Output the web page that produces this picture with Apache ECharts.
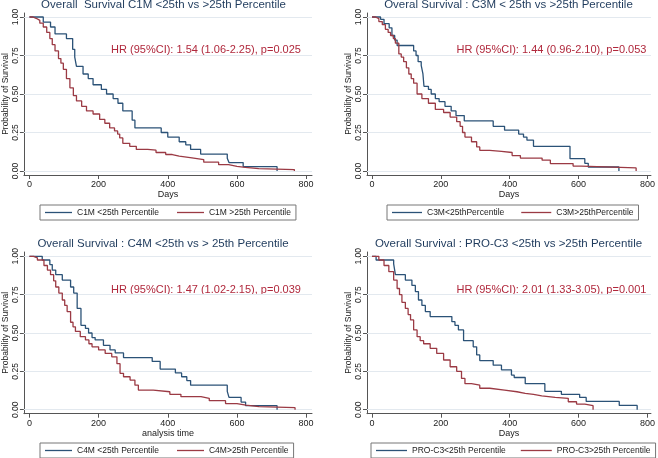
<!DOCTYPE html>
<html><head><meta charset="utf-8">
<script src="https://cdn.jsdelivr.net/npm/echarts@6/dist/echarts.min.js"></script>
<style>html,body{margin:0;padding:0;background:#fff}#c{width:658px;height:458px}</style>
</head><body><div id="c"></div>
<script>
// ---- data ----
const xTicks = [0, 200, 400, 600, 800];
const yTicks = [0, 0.25, 0.5, 0.75, 1];
const titles = [
  'Overall  Survival C1M <25th vs >25th Percentile',
  'Overal Survival : C3M < 25th vs >25th Percentile',
  'Overall Survival : C4M <25th vs > 25th Percentile',
  'Overall Survival : PRO-C3 <25th vs >25th Percentile'
];
const hrTexts = [
  'HR (95%CI): 1.54 (1.06-2.25), p=0.025',
  'HR (95%CI): 1.44 (0.96-2.10), p=0.053',
  'HR (95%CI): 1.47 (1.02-2.15), p=0.039',
  'HR (95%CI): 2.01 (1.33-3.05), p=0.001'
];
const xNames = ['Days', 'Days', 'analysis time', 'Days'];
const yName = 'Probability of Survival';
const lowNames = ['C1M <25th Percentile', 'C3M<25thPercentile', 'C4M <25th Percentile', 'PRO-C3<25th Percentile'];
const highNames = ['C1M >25th Percentile', 'C3M>25thPercentile', 'C4M>25th Percentile', 'PRO-C3>25th Percentile'];

const c1mLowDays = [0,40,61,74,107,125,131,136,155,170,184,208,223,242,256,270,297,305,381,400,433,452,466,495,572,577,618,716];
const c1mLowSurv = [1,0.967,0.935,0.89,0.86,0.79,0.74,0.68,0.63,0.6,0.56,0.53,0.5,0.47,0.44,0.39,0.33,0.28,0.25,0.22,0.19,0.17,0.14,0.11,0.083,0.055,0.028,0];
const c1mHighDays = [0,10,21,30,40,50,59,66,74,84,91,98,107,117,127,136,151,165,184,203,218,232,246,255,261,270,290,309,342,366,394,413,433,470,504,547,576,600,624,663,766];
const c1mHighSurv = [1,0.99,0.978,0.96,0.935,0.9,0.86,0.82,0.78,0.73,0.7,0.66,0.6,0.54,0.49,0.455,0.42,0.39,0.37,0.335,0.31,0.28,0.26,0.24,0.215,0.18,0.16,0.14,0.135,0.12,0.107,0.096,0.085,0.074,0.057,0.041,0.03,0.024,0.015,0.009,0];

const c3mLowDays = [0,25,35,50,58,66,73,121,128,134,143,148,151,164,172,184,195,212,230,244,268,352,385,426,440,450,469,575,618,628,717];
const c3mLowSurv = [1,0.985,0.957,0.93,0.88,0.85,0.815,0.78,0.75,0.71,0.686,0.63,0.55,0.53,0.5,0.47,0.45,0.42,0.39,0.36,0.325,0.29,0.265,0.24,0.22,0.2,0.16,0.08,0.05,0.026,0];
const c3mHighDays = [0,10,20,30,39,47,54,62,68,78,85,92,100,107,114,121,131,145,164,184,208,227,246,256,263,270,289,304,313,342,376,407,431,494,518,584,608,767];
const c3mHighSurv = [1,0.99,0.97,0.95,0.92,0.9,0.88,0.86,0.83,0.76,0.74,0.71,0.67,0.63,0.6,0.57,0.5,0.47,0.44,0.4,0.38,0.35,0.32,0.29,0.25,0.22,0.19,0.156,0.134,0.128,0.12,0.1,0.084,0.07,0.048,0.032,0.02,0];

const c4mLowDays = [0,37,59,66,76,95,119,128,138,149,162,171,181,190,214,233,248,272,355,378,422,440,455,466,572,577,612,625,716];
const c4mLowSurv = [1,0.976,0.946,0.91,0.88,0.845,0.8,0.76,0.66,0.55,0.53,0.5,0.47,0.455,0.42,0.39,0.37,0.34,0.315,0.265,0.24,0.215,0.19,0.16,0.12,0.08,0.05,0.026,0];
const c4mHighDays = [0,12,23,42,52,61,70,76,85,95,102,109,119,126,133,147,162,172,181,200,219,238,253,262,272,291,305,315,358,406,438,496,520,567,600,626,664,768];
const c4mHighSurv = [1,0.99,0.976,0.94,0.91,0.88,0.84,0.8,0.76,0.715,0.68,0.64,0.57,0.54,0.51,0.476,0.455,0.43,0.41,0.39,0.367,0.345,0.3,0.237,0.215,0.193,0.16,0.128,0.117,0.1,0.085,0.074,0.059,0.04,0.03,0.02,0.013,0];

const proc3LowDays = [0,12,63,68,97,116,126,135,145,155,169,232,241,251,266,294,304,313,352,376,405,413,445,502,550,603,622,718,770];
const proc3LowSurv = [1,0.976,0.95,0.88,0.845,0.81,0.77,0.715,0.68,0.64,0.607,0.574,0.55,0.52,0.45,0.41,0.357,0.32,0.29,0.26,0.226,0.21,0.17,0.12,0.1,0.08,0.054,0.028,0];
const proc3HighDays = [0,20,35,49,63,73,80,87,97,105,112,121,131,140,150,169,188,208,227,246,260,270,289,313,342,385,421,445,469,493,532,570,594,618,642];
const proc3HighSurv = [1,0.976,0.94,0.9,0.845,0.79,0.75,0.7,0.66,0.62,0.585,0.52,0.476,0.45,0.43,0.4,0.367,0.324,0.28,0.25,0.204,0.17,0.16,0.14,0.128,0.117,0.106,0.1,0.09,0.08,0.074,0.052,0.037,0.026,0];

const lowDays = [c1mLowDays, c3mLowDays, c4mLowDays, proc3LowDays];
const lowSurv = [c1mLowSurv, c3mLowSurv, c4mLowSurv, proc3LowSurv];
const highDays = [c1mHighDays, c3mHighDays, c4mHighDays, proc3HighDays];
const highSurv = [c1mHighSurv, c3mHighSurv, c4mHighSurv, proc3HighSurv];

// ---- layout ----
const FONT = '"Liberation Sans", Arial, sans-serif';
const BLUE = '#2b5277', RED = '#9b3a44';
const L = [
  {gl:22, gt:13, gw:290, gh:162, xmin:-16, xmax:817, ymin:-0.026, ymax:1.026, tx:163.5, ty:5, hx:206, hy:50, lgL:40, lgT:205, iw:27, gap:18},
  {gl:367, gt:13, gw:286, gh:162, xmin:-14.4, xmax:810, ymin:-0.026, ymax:1.026, tx:508.5, ty:5, hx:551.5, hy:50, lgL:387, lgT:205, iw:30, gap:17},
  {gl:22, gt:252, gw:290, gh:161.7, xmin:-16, xmax:817, ymin:-0.026, ymax:1.028, tx:163, ty:244, hx:206, hy:289.5, lgL:40, lgT:443, iw:27, gap:18},
  {gl:367, gt:252, gw:286, gh:161.7, xmin:-14.4, xmax:810, ymin:-0.026, ymax:1.028, tx:508.5, ty:244, hx:551.5, hy:289.5, lgL:371, lgT:443, iw:31, gap:15}
];

const grid = [], xAxis = [], yAxis = [], series = [], legend = [], graphic = [];
const axisLineStyle = {color:'#555', width:1};
L.forEach((p, i) => {
  grid.push({left:p.gl, top:p.gt, width:p.gw, height:p.gh, containLabel:false});
  xAxis.push({
    type:'value', gridIndex:i, min:p.xmin, max:p.xmax,
    name:xNames[i], nameLocation:'middle', nameGap:13,
    nameTextStyle:{fontSize:9, color:'#222', fontFamily:FONT},
    axisLine:{show:true, onZero:false, lineStyle:axisLineStyle},
    axisTick:{show:true, length:4, lineStyle:axisLineStyle, customValues:xTicks},
    axisLabel:{show:true, margin:5, fontSize:9, color:'#222', fontFamily:FONT, customValues:xTicks, formatter:v=>String(v)},
    splitLine:{show:false}
  });
  yAxis.push({
    type:'value', gridIndex:i, min:p.ymin, max:p.ymax,
    name:yName, nameLocation:'middle', nameGap:12,
    nameTextStyle:{fontSize:8.5, color:'#222', fontFamily:FONT},
    axisLine:{show:true, onZero:false, lineStyle:axisLineStyle},
    axisTick:{show:true, length:4, lineStyle:axisLineStyle, customValues:yTicks},
    axisLabel:{show:true, margin:4, rotate:90, fontSize:8.5, color:'#222', fontFamily:FONT, customValues:yTicks, formatter:v=>v.toFixed(2)},
    splitLine:{show:false}
  });
  const mk = (d, s) => d.map((t, k) => [t, s[k]]);
  series.push({
    name:lowNames[i], type:'line', xAxisIndex:i, yAxisIndex:i, step:'end', symbol:'none',
    lineStyle:{color:BLUE, width:1.3}, itemStyle:{color:BLUE}, z:3,
    data:mk(lowDays[i], lowSurv[i]),
    markLine:{silent:true, symbol:'none', label:{show:false}, z:1,
      lineStyle:{color:'#e3e9ef', width:1, type:'solid'},
      data:yTicks.map(v => ({yAxis:v}))}
  });
  series.push({
    name:highNames[i], type:'line', xAxisIndex:i, yAxisIndex:i, step:'end', symbol:'none',
    lineStyle:{color:RED, width:1.3}, itemStyle:{color:RED}, z:4,
    data:mk(highDays[i], highSurv[i])
  });
  legend.push({
    data:[lowNames[i], highNames[i]], left:p.lgL, top:p.lgT, orient:'horizontal',
    icon:'rect', itemWidth:p.iw, itemHeight:1.3, itemGap:p.gap, padding:[3,5,3,5],
    borderColor:'#777', borderWidth:1, selectedMode:false,
    textStyle:{fontSize:8.5, color:'#222', fontFamily:FONT}
  });
  graphic.push({type:'text', x:p.tx, y:p.ty, silent:true,
    style:{text:titles[i], align:'center', verticalAlign:'middle', fontSize:11.5, fontFamily:FONT, fill:'#1e3a5c'}});
  graphic.push({type:'text', x:p.hx, y:p.hy, silent:true,
    style:{text:hrTexts[i], align:'center', verticalAlign:'middle', fontSize:11, fontFamily:FONT, fill:'#b0283c'}});
});

const chart = echarts.init(document.getElementById('c'), null, {renderer:'canvas'});
chart.setOption({animation:false, backgroundColor:'#fff', grid, xAxis, yAxis, series, legend, graphic});
</script>
</body></html>
